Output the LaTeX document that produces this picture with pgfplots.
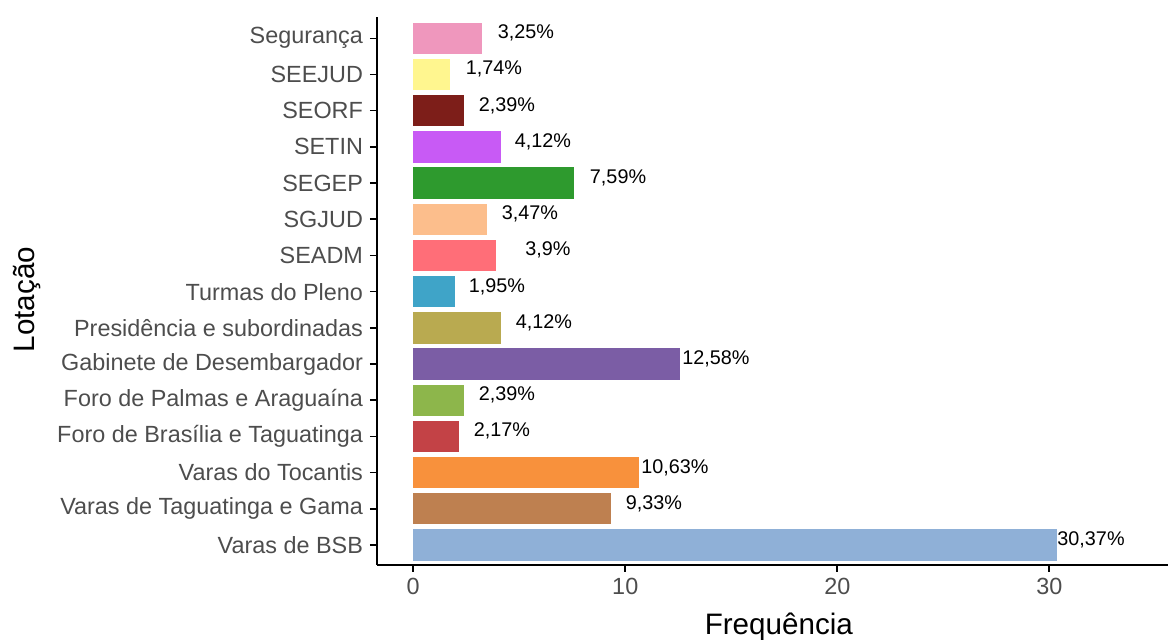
\documentclass[border=0pt]{standalone}
\usepackage{fontspec}
\setmainfont{Liberation Sans}
\usepackage{pgfplots}
\pgfplotsset{compat=1.18}

\definecolor{tickgray}{HTML}{4D4D4D}
\definecolor{cSeg}{HTML}{EF97BD}
\definecolor{cSeejud}{HTML}{FFF68F}
\definecolor{cSeorf}{HTML}{7D1E19}
\definecolor{cSetin}{HTML}{C85AF5}
\definecolor{cSegep}{HTML}{2E9A2E}
\definecolor{cSgjud}{HTML}{FCBE8C}
\definecolor{cSeadm}{HTML}{FF6E78}
\definecolor{cTurmas}{HTML}{3FA4C8}
\definecolor{cPres}{HTML}{B9AA50}
\definecolor{cGab}{HTML}{7B5DA5}
\definecolor{cPalmas}{HTML}{8DB64B}
\definecolor{cBras}{HTML}{C34246}
\definecolor{cToc}{HTML}{F8913C}
\definecolor{cTag}{HTML}{BE8050}
\definecolor{cBsb}{HTML}{8FB0D7}

\begin{document}
\begin{tikzpicture}
\begin{axis}[
    scale only axis,
    width=395.5pt, height=274.2pt,
    xmin=-1.71, xmax=35.6,
    ymin=-0.553, ymax=14.6,
    axis x line*=bottom, axis y line*=left,
    axis line style={line width=1pt, -},
    xtick={0,10,20,30},
    ytick={0,...,14},
    yticklabels={Varas de BSB, Varas de Taguatinga e Gama, Varas do Tocantis,
        Foro de Brasília e Taguatinga, Foro de Palmas e Araguaína,
        Gabinete de Desembargador, Presidência e subordinadas, Turmas do Pleno,
        SEADM, SGJUD, SEGEP, SETIN, SEORF, SEEJUD, Segurança},
    tick align=outside,
    major tick length=3.5pt,
    tick style={line width=0.8pt, black},
    ticklabel style={font=\fontsize{11.7}{13}\selectfont, text=tickgray},
    /pgf/number format/assume math mode=true,
    xticklabel style={yshift=0.5pt},
    xlabel={Frequência},
    ylabel={Lotação},
    label style={font=\fontsize{14.8}{17}\selectfont},
    xlabel style={at={(axis description cs:0.508,0)}, anchor=center, yshift=-31pt},
    ylabel style={at={(axis description cs:-0.4425,0.484)}, anchor=center},
    clip=false,
]
\pgfplotsset{bar/.style={xbar, bar width=0.868, bar shift=0pt, draw=none, fill=#1}}

\addplot[bar=cBsb]    coordinates {(30.37,0)};
\addplot[bar=cTag]    coordinates {(9.33,1)};
\addplot[bar=cToc]    coordinates {(10.63,2)};
\addplot[bar=cBras]   coordinates {(2.17,3)};
\addplot[bar=cPalmas] coordinates {(2.39,4)};
\addplot[bar=cGab]    coordinates {(12.58,5)};
\addplot[bar=cPres]   coordinates {(4.12,6)};
\addplot[bar=cTurmas] coordinates {(1.95,7)};
\addplot[bar=cSeadm]  coordinates {(3.9,8)};
\addplot[bar=cSgjud]  coordinates {(3.47,9)};
\addplot[bar=cSegep]  coordinates {(7.59,10)};
\addplot[bar=cSetin]  coordinates {(4.12,11)};
\addplot[bar=cSeorf]  coordinates {(2.39,12)};
\addplot[bar=cSeejud] coordinates {(1.74,13)};
\addplot[bar=cSeg]    coordinates {(3.25,14)};

% value labels, placed where the reference puts them
\addplot[only marks, mark=none, nodes near coords, point meta=explicit symbolic,
    nodes near coords style={anchor=center, inner sep=0pt, yshift=2.6pt,
        font=\fontsize{9.9}{11}\selectfont, text=black}]
    table[meta=lab] {
x     y  lab
31.97 0  30,37\%
11.35 1  9,33\%
12.34 2  10,63\%
4.18  3  2,17\%
4.42  4  2,39\%
14.28 5  12,58\%
6.16  6  4,12\%
3.95  7  1,95\%
6.35  8  3,9\%
5.50  9  3,47\%
9.66  10 7,59\%
6.12  11 4,12\%
4.42  12 2,39\%
3.81  13 1,74\%
5.32  14 3,25\%
};
\end{axis}
\pgfresetboundingbox
\path[use as bounding box] (-188.5pt,-37.5pt) rectangle (395.5pt,282.5pt);
\end{tikzpicture}
\end{document}
